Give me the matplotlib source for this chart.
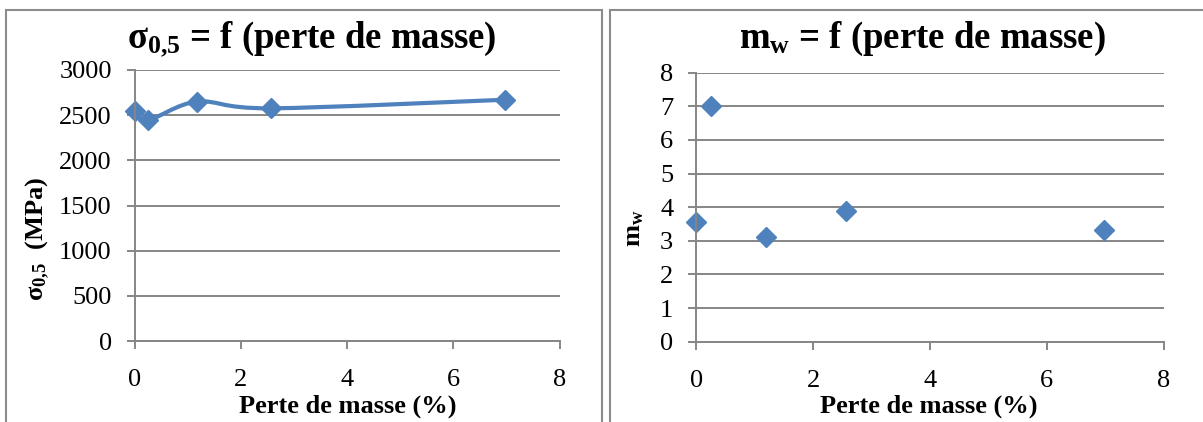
import numpy as np
import matplotlib.pyplot as plt
from matplotlib.path import Path
from matplotlib.patches import PathPatch, Rectangle

# Data
# ****************************
perte_sigma = [0.0, 0.25, 1.18, 2.56, 6.98]         # Perte de masse (%)
sigma_05 = [2550, 2446, 2650, 2576, 2671]           # sigma 0,5 (MPa)

perte_mw = [0.0, 0.25, 1.19, 2.56, 6.98]            # Perte de masse (%)
m_w = [3.57, 7.0, 3.11, 3.89, 3.32]                 # module de Weibull

x_ticks = [0, 2, 4, 6, 8]
sigma_ticks = [0, 500, 1000, 1500, 2000, 2500, 3000]
mw_ticks = [0, 1, 2, 3, 4, 5, 6, 7, 8]

blue = '#4F81BD'
grey = '#868686'

plt.rcParams['font.family'] = ['Liberation Serif', 'DejaVu Serif']
plt.rcParams['mathtext.fontset'] = 'custom'
plt.rcParams['mathtext.bf'] = 'Liberation Serif:bold'
plt.rcParams['mathtext.rm'] = 'Liberation Serif:bold'
plt.rcParams['mathtext.default'] = 'bf'


def smooth_path(x, y):
    # Excel style smoothed line: Catmull-Rom as cubic Bezier segments
    pts = np.column_stack([x, y]).astype(float)
    ext = np.vstack([pts[0], pts, pts[-1]])
    verts = [pts[0]]
    codes = [Path.MOVETO]
    for i in range(len(pts) - 1):
        p0, p1, p2, p3 = ext[i], ext[i + 1], ext[i + 2], ext[i + 3]
        verts += [p1 + (p2 - p0) / 6, p2 - (p3 - p1) / 6, p2]
        codes += [Path.CURVE4] * 3
    return Path(verts, codes)


def style_axes(ax, yticks):
    ax.set_xlim(0, 8)
    ax.set_ylim(yticks[0], yticks[-1])
    ax.set_xticks(x_ticks)
    ax.set_yticks(yticks)
    ax.grid(axis='y', color=grey, lw=1.4)
    ax.set_axisbelow(True)
    for s in ['top', 'right']:
        ax.spines[s].set_visible(False)
    for s in ['left', 'bottom']:
        ax.spines[s].set_color(grey)
        ax.spines[s].set_linewidth(1.4)
    ax.tick_params(axis='both', colors=grey, width=1.4, length=5.5,
                   labelcolor='black', labelsize=19)
    ax.tick_params(axis='x', pad=15)
    ax.tick_params(axis='y', pad=11)


W, H = 1203, 422
fig = plt.figure(figsize=(W / 100, H / 100), dpi=100)

# Panel borders
fig.add_artist(Rectangle((5.5 / W, -0.1), (601.5 - 5.5) / W, 1.1 - 9.5 / H,
                         transform=fig.transFigure, fill=False,
                         edgecolor='#8c8c8c', lw=1.5))
fig.add_artist(Rectangle((609.5 / W, -0.1), 0.5, 1.1 - 9.5 / H,
                         transform=fig.transFigure, fill=False,
                         edgecolor='#8c8c8c', lw=1.5))

# Left chart
ax1 = fig.add_axes([134.7 / W, 1 - 341 / H, 424.8 / W, 271 / H])
style_axes(ax1, sigma_ticks)
ax1.add_patch(PathPatch(smooth_path(perte_sigma, sigma_05), fill=False,
                        edgecolor=blue, lw=3, capstyle='round'))
ax1.plot(perte_sigma, sigma_05, 'D', color=blue, ms=10, clip_on=False)
fig.text(312 / W, 1 - 48 / H, r'σ$_{0{,}5}$ = f (perte de masse)',
         fontsize=26.5, fontweight='bold', ha='center', va='baseline')
fig.text(348 / W, 1 - 413 / H, 'Perte de masse (%)',
         fontsize=19, fontweight='bold', ha='center', va='baseline')
fig.text(38 / W, 1 - 239 / H, r'σ$_{0{,}5}$  (MPa)', rotation=90,
         fontsize=19, fontweight='bold', ha='center', va='center')

# Right chart
ax2 = fig.add_axes([696.2 / W, 1 - 341.7 / H, 467.3 / W, 269 / H])
style_axes(ax2, mw_ticks)
ax2.plot(perte_mw, m_w, 'D', color=blue, ms=10, clip_on=False)
fig.text(922 / W, 1 - 48 / H, r'm$_{w}$ = f (perte de masse)',
         fontsize=26.5, fontweight='bold', ha='center', va='baseline')
fig.text(929 / W, 1 - 413 / H, 'Perte de masse (%)',
         fontsize=19, fontweight='bold', ha='center', va='baseline')
fig.text(635 / W, 1 - 228 / H, r'm$_{w}$', rotation=90,
         fontsize=19, fontweight='bold', ha='center', va='center')

fig.savefig('out.png', dpi=100)
